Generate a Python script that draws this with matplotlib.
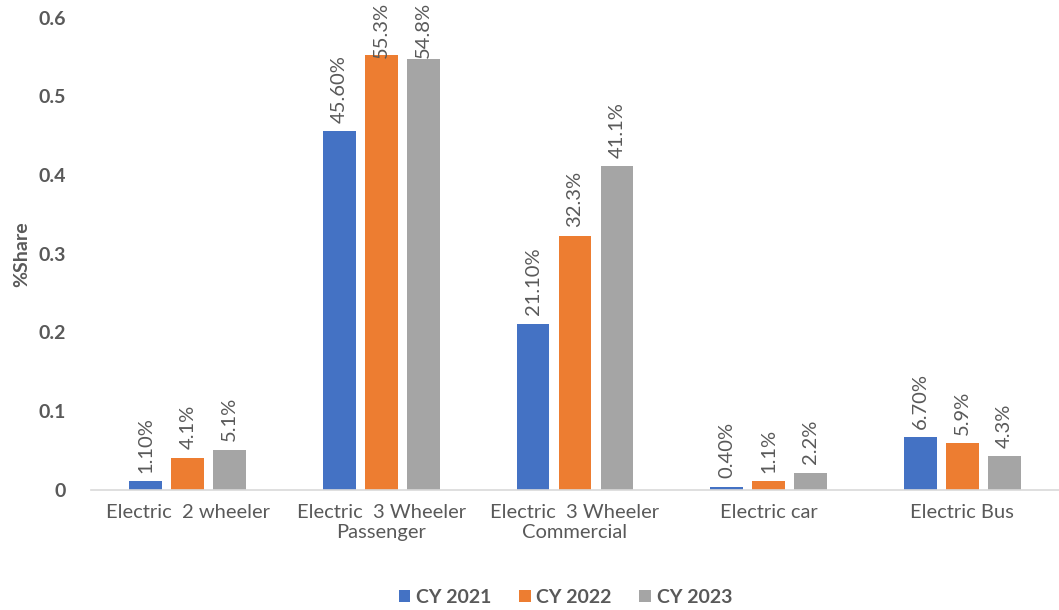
import matplotlib
matplotlib.use("Agg")
import matplotlib.pyplot as plt
import numpy as np

categories = ["Electric  2 wheeler", "Electric  3 Wheeler\nPassenger",
              "Electric  3 Wheeler\nCommercial", "Electric car", "Electric Bus"]
series_names = ["CY 2021", "CY 2022", "CY 2023"]
cy2021 = [0.011, 0.456, 0.211, 0.004, 0.067]
cy2022 = [0.041, 0.553, 0.323, 0.011, 0.059]
cy2023 = [0.051, 0.548, 0.411, 0.022, 0.043]
labels2021 = ["1.10%", "45.60%", "21.10%", "0.40%", "6.70%"]
labels2022 = ["4.1%", "55.3%", "32.3%", "1.1%", "5.9%"]
labels2023 = ["5.1%", "54.8%", "41.1%", "2.2%", "4.3%"]

colors = ["#4472C4", "#ED7D31", "#A5A5A5"]
text_color = "#595959"

plt.rcParams['font.family'] = ['Lato', 'DejaVu Sans']

fig = plt.figure(figsize=(10.59, 6.10), dpi=100)
ax = fig.add_axes([0.086, 0.197, 0.914, 0.774])

x = np.arange(len(categories))
width = 0.17
step = 0.217
texts = []
for i, (vals, labs) in enumerate(zip([cy2021, cy2022, cy2023],
                                     [labels2021, labels2022, labels2023])):
    pos = x + (i - 1) * step
    ax.bar(pos, vals, width, color=colors[i], label=series_names[i])
    for px, v, lab in zip(pos, vals, labs):
        t = ax.annotate(lab, (px, v), xytext=(0, 6), textcoords="offset points",
                        rotation=90, ha="center", va="bottom",
                        fontsize=14.5, color=text_color)
        texts.append(t)

ax.set_xlim(-0.5, 4.5)
ax.set_ylim(0, 0.6)
ax.set_yticks([0, 0.1, 0.2, 0.3, 0.4, 0.5, 0.6])
ax.set_yticklabels(["0", "0.1", "0.2", "0.3", "0.4", "0.5", "0.6"])
ax.set_xticks(x)
ax.set_xticklabels(categories)
ax.tick_params(axis="both", length=0, colors=text_color)
ax.tick_params(axis="y", labelsize=14, pad=18)
ax.tick_params(axis="x", labelsize=14.5, pad=10)
for lab in ax.get_yticklabels():
    lab.set_fontweight("bold")
for side in ["top", "right", "left"]:
    ax.spines[side].set_visible(False)
ax.spines["bottom"].set_color("#D9D9D9")
ax.spines["bottom"].set_linewidth(1.2)

ax.set_ylabel("%Share", fontsize=14, fontweight="bold", color=text_color, labelpad=6)

leg = ax.legend(loc="center", bbox_to_anchor=(0.49, -0.228), ncol=3, frameon=False,
                handlelength=0.6, handleheight=0.6, handletextpad=0.3,
                columnspacing=1.4, prop={"size": 14, "weight": "bold"})
for t in leg.get_texts():
    t.set_color(text_color)

# keep the data labels inside the figure, like the spreadsheet does
fig.canvas.draw()
renderer = fig.canvas.get_renderer()
fig_h = fig.bbox.height
for t in texts:
    bb = t.get_window_extent(renderer)
    if bb.y1 > fig_h - 2:
        shift = (bb.y1 - (fig_h - 2)) * 72 / fig.dpi
        ox, oy = t.xyann
        t.xyann = (ox, oy - shift)

fig.savefig("out.png", dpi=100, facecolor="white")
